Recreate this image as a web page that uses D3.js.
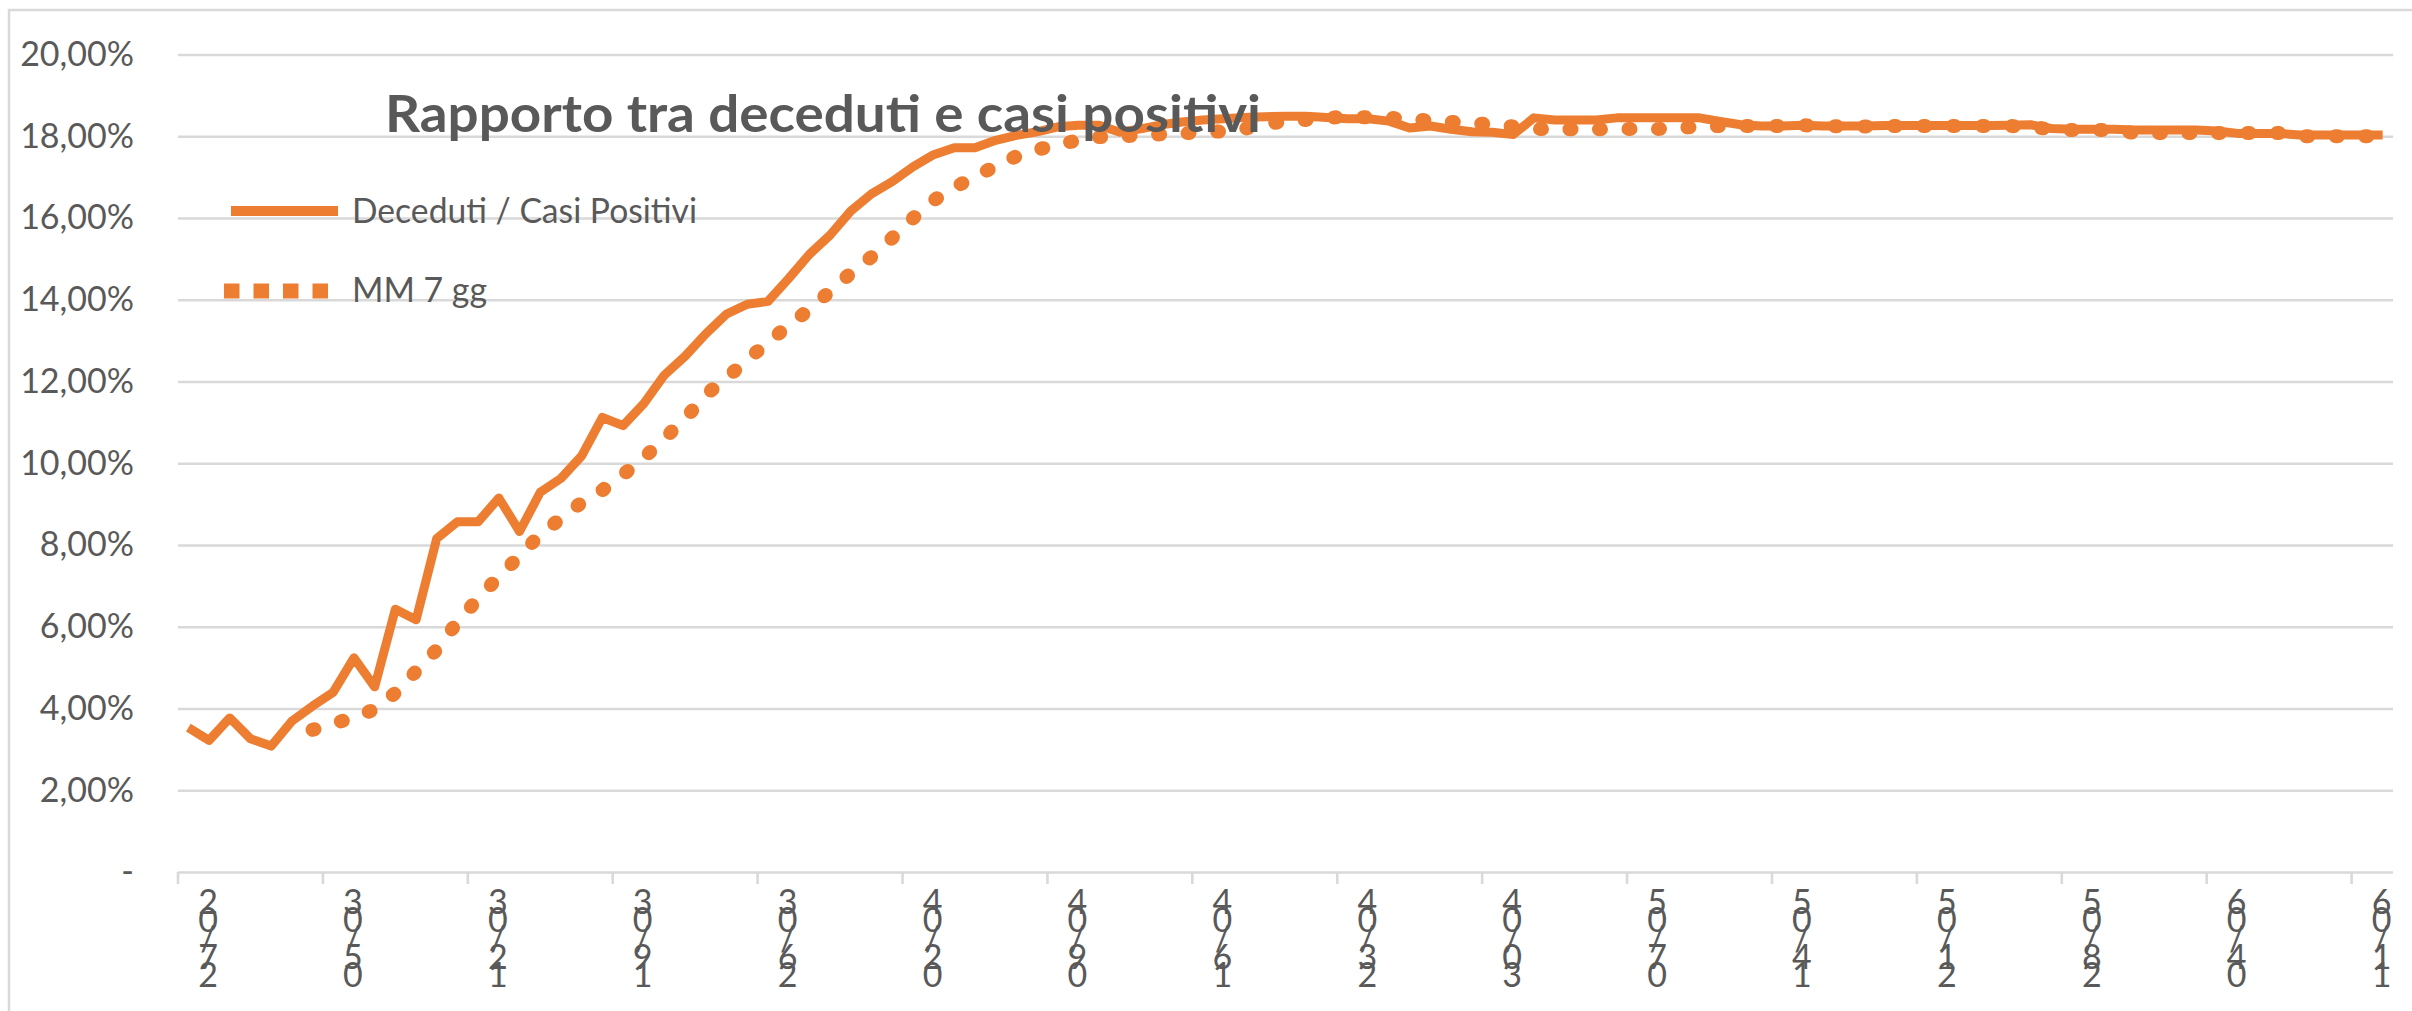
<!DOCTYPE html>
<html>
<head>
<meta charset="utf-8">
<script src="https://cdn.jsdelivr.net/npm/d3@7/dist/d3.min.js"></script>
<style>
  body { margin: 0; background: #fff; }
  text { font-family: Lato, "Liberation Sans", sans-serif; fill: #595959; }
</style>
</head>
<body>
<div class="chart-area"></div>
<script>
// tick labels every 7 days (27/02 ... 11/06)
var tickLabels = ["27/02","05/03","12/03","19/03","26/03","02/04","09/04","16/04",
                  "23/04","30/04","07/05","14/05","21/05","28/05","04/06","11/06"];

// Deceduti / Casi Positivi (%), one value per day from 27/02
var ratio = [3.53,3.22,3.77,3.26,3.08,3.69,4.06,4.40,5.24,4.53,
             6.43,6.17,8.16,8.57,8.57,9.15,8.33,9.29,9.63,10.18,
             11.12,10.92,11.46,12.16,12.62,13.17,13.65,13.89,13.96,14.52,
             15.11,15.58,16.17,16.59,16.89,17.25,17.55,17.72,17.72,17.90,
             18.02,18.11,18.23,18.27,18.27,18.10,18.18,18.28,18.35,18.40,
             18.43,18.46,18.48,18.49,18.49,18.46,18.43,18.43,18.37,18.20,
             18.25,18.17,18.11,18.10,18.04,18.45,18.40,18.40,18.40,18.45,
             18.45,18.45,18.45,18.45,18.36,18.28,18.25,18.25,18.27,18.25,
             18.25,18.25,18.26,18.26,18.26,18.26,18.26,18.26,18.27,18.28,
             18.19,18.17,18.17,18.17,18.15,18.15,18.15,18.15,18.13,18.07,
             18.07,18.07,18.03,18.03,18.03,18.03,18.03];

// MM 7 gg (%), starts on the 7th day
var mm7 = [null,null,null,null,null,null,3.48,3.63,3.78,3.98,
           4.38,4.91,5.44,6.12,6.69,7.23,7.73,8.26,8.65,9.04,
           9.34,9.72,10.13,10.61,11.09,11.68,12.08,12.54,12.95,13.38,
           13.76,14.21,14.65,15.05,15.51,15.99,16.43,16.75,17.01,17.27,
           17.51,17.67,17.80,17.90,17.98,18.00,18.02,18.05,18.07,18.10,
           18.12,18.18,18.30,18.36,18.40,18.45,18.48,18.46,18.45,18.42,
           18.38,18.35,18.32,18.29,18.24,18.18,18.17,18.17,18.17,18.18,
           18.18,18.18,18.20,18.24,18.25,18.25,18.25,18.25,18.27,18.25,
           18.24,18.24,18.25,18.25,18.25,18.25,18.25,18.25,18.25,18.23,
           18.17,18.15,18.15,18.15,18.08,18.08,18.08,18.08,18.08,18.08,
           18.08,18.08,18.00,18.00,18.00,18.00,18.00];

var yTicks = [0,2,4,6,8,10,12,14,16,18,20];

var W = 2412, H = 1011;
var margin = {left: 178, right: 2393, top: 54.5, bottom: 872};
var orange = "#ED7D31", grid = "#d9d9d9";

var dates = ratio.map(function(d, i){ return d3.timeDay.offset(new Date(2020, 1, 27), i); });

var svg = d3.select(".chart-area").append("svg")
    .attr("width", W)
    .attr("height", H);

// chart frame
svg.append("rect")
    .attr("x", 9).attr("y", 10)
    .attr("width", W + 20).attr("height", H + 20)
    .attr("fill", "#fff")
    .attr("stroke", grid)
    .attr("stroke-width", 2.5);

var x = d3.scaleBand()
    .domain(dates)
    .range([margin.left, margin.right])
    .padding(0);

var y = d3.scaleLinear()
    .domain([0, 20])
    .range([margin.bottom, margin.top]);

var cx = function(i){ return x(dates[i]) + x.bandwidth() / 2; };

// y axis + gridlines
var yAxis = svg.append("g")
    .attr("transform", "translate(" + margin.left + ",0)")
    .call(d3.axisLeft(y)
        .tickValues(yTicks)
        .tickSize(-(margin.right - margin.left))
        .tickPadding(44)
        .tickFormat(function(d){ return d === 0 ? "-" : d.toFixed(2).replace(".", ",") + "%"; }));

yAxis.select(".domain").remove();
yAxis.selectAll(".tick line")
    .attr("stroke", grid)
    .attr("stroke-width", 2.6);
yAxis.selectAll(".tick text")
    .attr("fill", "#595959")
    .style("font-family", "Lato, 'Liberation Sans', sans-serif")
    .style("font-size", "34px");

// x ticks every 7 days
var tickIdx = tickLabels.map(function(d, k){ return k * 7; });

svg.selectAll(".xtick")
    .data(tickIdx)
    .enter().append("line")
    .attr("class", "xtick")
    .attr("x1", function(i){ return x(dates[i]); })
    .attr("x2", function(i){ return x(dates[i]); })
    .attr("y1", margin.bottom)
    .attr("y2", margin.bottom + 12)
    .attr("stroke", grid)
    .attr("stroke-width", 2.6);

// stacked vertical labels, read bottom-up
var xl = svg.selectAll(".xlabel")
    .data(tickIdx)
    .enter().append("text")
    .attr("class", "xlabel")
    .attr("text-anchor", "middle")
    .style("font-size", "34px");

xl.each(function(i, k){
    var t = d3.select(this);
    var chars = tickLabels[k].split("").reverse();
    chars.forEach(function(c, j){
        t.append("tspan")
            .attr("x", x(dates[i]) + 30)
            .attr("y", 914 + j * 18.3)
            .text(c);
    });
});

// series
var line = d3.line()
    .defined(function(d){ return d !== null; })
    .x(function(d, i){ return cx(i); })
    .y(function(d){ return y(d); });

svg.append("path")
    .datum(ratio)
    .attr("fill", "none")
    .attr("stroke", orange)
    .attr("stroke-width", 9)
    .attr("stroke-linejoin", "round")
    .attr("d", line);

// round dots
svg.append("path")
    .datum(mm7)
    .attr("fill", "none")
    .attr("stroke", orange)
    .attr("stroke-width", 14)
    .attr("stroke-linecap", "round")
    .attr("stroke-dasharray", "2,27.5")
    .attr("stroke-linejoin", "round")
    .attr("d", line);

// title
svg.append("text")
    .attr("x", 385)
    .attr("y", 132)
    .attr("textLength", 876)
    .attr("lengthAdjust", "spacingAndGlyphs")
    .style("font-size", "52px")
    .style("font-weight", "bold")
    .text("Rapporto tra deceduti e casi positivi");

// legend
svg.append("line")
    .attr("x1", 231).attr("x2", 338)
    .attr("y1", 211).attr("y2", 211)
    .attr("stroke", orange)
    .attr("stroke-width", 10);

svg.append("text")
    .attr("x", 352).attr("y", 223)
    .attr("textLength", 345)
    .attr("lengthAdjust", "spacingAndGlyphs")
    .style("font-size", "34px")
    .text("Deceduti / Casi Positivi");

svg.append("line")
    .attr("x1", 224).attr("x2", 328)
    .attr("y1", 291).attr("y2", 291)
    .attr("stroke", orange)
    .attr("stroke-width", 15)
    .attr("stroke-dasharray", "15.5,14");

svg.append("text")
    .attr("x", 352).attr("y", 302)
    .attr("textLength", 135)
    .attr("lengthAdjust", "spacingAndGlyphs")
    .style("font-size", "34px")
    .text("MM 7 gg");
</script>
</body>
</html>
